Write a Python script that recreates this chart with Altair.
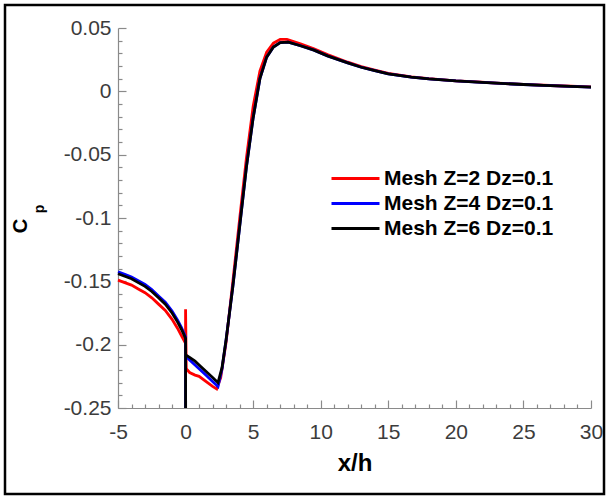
import altair as alt
import pandas as pd

series_names = ["Mesh Z=2 Dz=0.1", "Mesh Z=4 Dz=0.1", "Mesh Z=6 Dz=0.1"]
series_colors = ["#ff0000", "#0000ff", "#000000"]

red_x = [-5, -4.5, -4, -3.5, -3, -2.5, -2, -1.5, -1, -0.6, -0.3, 0, 0, 0.05, 0.3, 0.7, 1.0, 1.5, 2.0, 2.3, 2.6,
         3.0, 3.5, 4.0, 4.5, 5.0, 5.5, 6.0, 6.5, 7.0, 7.5, 8.5, 9.5, 10.5, 12, 13, 14, 15, 16.7, 18, 20, 21.6,
         23, 25, 26.5, 28, 30]
red_y = [-0.149, -0.151, -0.153, -0.156, -0.159, -0.163, -0.168, -0.173, -0.180, -0.187, -0.193, -0.199,
         -0.172, -0.219, -0.222, -0.224, -0.225, -0.229, -0.233, -0.235, -0.226, -0.198, -0.150, -0.101,
         -0.053, -0.012, 0.016, 0.031, 0.038, 0.041, 0.041, 0.0375, 0.0335, 0.029, 0.023, 0.0195, 0.0167,
         0.0141, 0.0115, 0.0100, 0.0083, 0.0074, 0.0065, 0.0055, 0.0048, 0.0042, 0.0035]

blue_x = [-5, -4.5, -4, -3.5, -3, -2.5, -2, -1.5, -1, -0.6, -0.3, 0, 0, 0, 0.3, 0.7, 1.0, 1.5, 2.0, 2.4, 2.7,
          3.0, 3.5, 4.0, 4.5, 5.0, 5.5, 6.0, 6.5, 7.0, 7.6, 8.5, 9.5, 10.5, 12, 13, 14, 15, 16.7, 18, 20, 21.6,
          23, 25, 26.5, 28, 30]
blue_y = [-0.1425, -0.1445, -0.1465, -0.1495, -0.1525, -0.1565, -0.1615, -0.1665, -0.1735, -0.1805, -0.1865,
          -0.194, -0.25, -0.209, -0.212, -0.216, -0.219, -0.224, -0.229, -0.233, -0.219, -0.196, -0.154,
          -0.107, -0.060, -0.021, 0.010, 0.027, 0.035, 0.0385, 0.0388, 0.036, 0.0325, 0.028, 0.0225, 0.019,
          0.0163, 0.0138, 0.0113, 0.0098, 0.0082, 0.0073, 0.0064, 0.0054, 0.0047, 0.0041, 0.0034]

black_x = [-5, -4.5, -4, -3.5, -3, -2.5, -2, -1.5, -1, -0.6, -0.3, 0, 0, 0, 0.3, 0.7, 1.0, 1.5, 2.0, 2.4, 2.7,
           3.0, 3.5, 4.0, 4.5, 5.0, 5.5, 6.0, 6.5, 7.0, 7.6, 8.5, 9.5, 10.5, 12, 13, 14, 15, 16.7, 18, 20, 21.6,
           23, 25, 26.5, 28, 30]
black_y = [-0.144, -0.146, -0.148, -0.151, -0.154, -0.158, -0.163, -0.168, -0.175, -0.182, -0.188, -0.195,
           -0.25, -0.208, -0.210, -0.213, -0.216, -0.221, -0.226, -0.230, -0.218, -0.196, -0.154, -0.107,
           -0.060, -0.021, 0.010, 0.027, 0.035, 0.0385, 0.0388, 0.036, 0.0325, 0.028, 0.0225, 0.019, 0.0163,
           0.0138, 0.0113, 0.0098, 0.0082, 0.0073, 0.0064, 0.0054, 0.0047, 0.0041, 0.0034]

x_major = [-5, 0, 5, 10, 15, 20, 25, 30]
x_minor = [-4, -3, -2, -1, 1, 2, 3, 4, 6, 7, 8, 9, 11, 12, 13, 14, 16, 17, 18, 19, 21, 22, 23, 24, 26, 27, 28, 29]
y_major = [-0.25, -0.2, -0.15, -0.1, -0.05, 0, 0.05]
y_minor = [-0.24, -0.23, -0.22, -0.21, -0.19, -0.18, -0.17, -0.16, -0.14, -0.13, -0.12, -0.11, -0.09, -0.08,
           -0.07, -0.06, -0.04, -0.03, -0.02, -0.01, 0.01, 0.02, 0.03, 0.04]

rows = []
for name, xs, ys in zip(series_names, [red_x, blue_x, black_x], [red_y, blue_y, black_y]):
    for i, (xv, yv) in enumerate(zip(xs, ys)):
        rows.append({"series": name, "x": xv, "y": yv, "idx": i})
df = pd.DataFrame(rows)

W, H = 473, 380
LEFT, TOP = 118, 28
FONT = "Liberation Sans"
AX = "#8a8a8a"
LBL = "(datum.value < 0 ? '-' : '') + format(abs(datum.value), '~g')"

x_scale = alt.Scale(domain=[-5, 30], nice=False, zero=False)
y_scale = alt.Scale(domain=[-0.25, 0.05], nice=False, zero=False)

base = alt.Chart(df)

lines = base.mark_line(strokeWidth=2.8).encode(
    x=alt.X("x:Q", scale=x_scale, axis=alt.Axis(
        orient="bottom", values=x_major, ticks=False, tickSize=0, grid=False, labelFlush=False,
        domainColor=AX, domainWidth=1.2, labelFont=FONT, labelFontSize=21, labelColor="#3c3c3c",
        labelPadding=13, labelExpr=LBL, title="x/h", titleFont=FONT, titleFontSize=24,
        titleFontWeight="bold", titleColor="black", titleBaseline="alphabetic", titleY=62)),
    y=alt.Y("y:Q", scale=y_scale, axis=alt.Axis(
        orient="left", values=y_major, ticks=False, tickSize=0, grid=False, labelFlush=False,
        domainColor=AX, domainWidth=1.2, labelFont=FONT, labelFontSize=21, labelColor="#3c3c3c",
        labelPadding=7, labelExpr=LBL, title=None)),
    color=alt.Color("series:N", scale=alt.Scale(domain=series_names, range=series_colors),
                    legend=alt.Legend(orient="none", legendX=224, legendY=137, title=None,
                                      symbolType="M-2,0H2", symbolSize=576, symbolStrokeWidth=3,
                                      labelFont=FONT, labelFontSize=21, labelFontWeight="bold",
                                      labelColor="black", labelOffset=15, labelLimit=0,
                                      rowPadding=1, padding=0)),
    order=alt.Order("idx:Q"),
)

def tick_layer(xv, yv, size):
    return base.mark_point(opacity=0).encode(
        x=alt.X("x:Q", scale=x_scale, axis=alt.Axis(
            orient="top", offset=-H, values=xv, labels=False, domain=False, grid=False,
            ticks=True, tickSize=size, tickColor=AX, tickWidth=1.2, title=None)),
        y=alt.Y("y:Q", scale=y_scale, axis=alt.Axis(
            orient="right", offset=-W, values=yv, labels=False, domain=False, grid=False,
            ticks=True, tickSize=size, tickColor=AX, tickWidth=1.2, title=None)),
    )

major = tick_layer(x_major, y_major, 8)
minor = tick_layer(x_minor, y_minor, 4)

one = alt.Data(values=[{}])
frame = alt.Chart(one).mark_rect(filled=False, stroke="black", strokeWidth=2.5).encode(
    x=alt.value(5 - LEFT), x2=alt.value(604 - LEFT), y=alt.value(5 - TOP), y2=alt.value(494 - TOP))
c_text = alt.Chart(one).mark_text(text="C", angle=270, align="center", baseline="alphabetic",
                                  font=FONT, fontSize=20, fontWeight="bold", color="black").encode(
    x=alt.value(27 - LEFT), y=alt.value(226 - TOP))
p_text = alt.Chart(one).mark_text(text="p", angle=270, align="center", baseline="alphabetic",
                                  font=FONT, fontSize=14, fontWeight="bold", color="black").encode(
    x=alt.value(44 - LEFT), y=alt.value(209 - TOP))

chart = alt.layer(lines, major, minor, frame, c_text, p_text).resolve_axis(
    x="independent", y="independent"
).properties(
    width=W, height=H,
    padding={"left": LEFT, "top": TOP, "right": 608 - LEFT - W, "bottom": 498 - TOP - H},
    autosize=alt.AutoSizeParams(type="none"),
    background="white",
).configure_view(strokeWidth=0)

chart.save("out.html", embed_options={"renderer": "svg", "actions": False})
